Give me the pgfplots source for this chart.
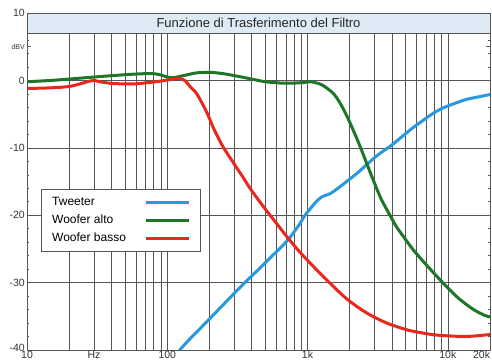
\documentclass[border=0pt]{standalone}
\usepackage{fontspec}
\setmainfont{Liberation Sans}
\usepackage{pgfplots}
\pgfplotsset{compat=1.18}
\definecolor{cBlue}{RGB}{42,152,222}
\definecolor{cGreen}{RGB}{30,118,40}
\definecolor{cRed}{RGB}{232,40,28}
\definecolor{band}{RGB}{222,234,245}
\definecolor{gridc}{RGB}{85,85,85}
\begin{document}
\begin{tikzpicture}
\begin{axis}[
  scale only axis, width=463pt, height=337pt,
  xmode=log, xmin=10, xmax=20000, ymin=-40, ymax=10,
  xtick={10,100,1000,10000,20000},
  xticklabels={10,100,1k,10k,\makebox[0pt][r]{20k}},
  minor xtick={20,30,40,50,60,70,80,90,200,300,400,500,600,700,800,900,2000,3000,4000,5000,6000,7000,8000,9000},
  ytick={-40,-30,-20,-10,0,10},
  yticklabels={\raisebox{5pt}{-40},-30,-20,-10,0,10},
  minor y tick num=4,
  xmajorgrids, xminorgrids, ymajorgrids,
  major grid style={gridc, line width=0.5pt},
  minor grid style={gridc, line width=0.5pt},
  axis line style={gridc, line width=0.8pt},
  x tick style={draw=none},
  y tick style={gridc, line width=0.5pt},
  major tick length=4pt, minor tick length=2pt,
  extra x ticks={30}, extra x tick labels={Hz},
  extra x tick style={grid=none},
  extra y ticks={5}, extra y tick labels={dBV},
  extra y tick style={grid=none, yticklabel style={font=\fontsize{7}{8}\selectfont}},
  ticklabel style={font=\fontsize{10.5}{12}\selectfont, text=black!80},
  xticklabel style={inner sep=1pt},
  yticklabel style={inner sep=2pt},
  legend style={at={(rel axis cs:0.03,0.478)}, anchor=north west,
    draw=gridc, fill=white, line width=0.6pt,
    font=\fontsize{12}{14}\selectfont,
    nodes={inner sep=1pt},
    inner xsep=10pt, inner ysep=7pt,
    /tikz/column sep=17pt, /tikz/row sep=6pt},
  legend plot pos=right,
  legend cell align=left,
  legend image code/.code={\draw[#1, line width=3pt] (0pt,0pt) -- (43pt,0pt);},
]
\fill[band] (rel axis cs:0,0.94) rectangle (rel axis cs:1,1);
\draw[gridc, line width=0.5pt] (rel axis cs:0,0.94) -- (rel axis cs:1,0.94);
\node[font=\fontsize{13}{15}\selectfont, text=black!85] at (rel axis cs:0.5,0.97) {Funzione di Trasferimento del Filtro};

\addplot[cBlue, line width=3pt, smooth] coordinates {
(110,-42.4) (123,-40) (200,-35.4) (300,-31.6) (370,-29.7) (450,-28.0)
(550,-26.2) (650,-24.7) (730,-23.6) (860,-21.6) (960,-20.0) (1050,-19.0)
(1130,-18.2) (1260,-17.3) (1450,-16.8) (1650,-16.0) (1900,-15.0) (2250,-13.8)
(2640,-12.5) (3200,-11.0) (3870,-9.8) (4560,-8.6) (5500,-7.2) (6700,-5.9)
(7850,-4.9) (9000,-4.2) (10900,-3.5) (13700,-2.8) (17000,-2.4) (20000,-2.1)
};
\addlegendentry{Tweeter}

\addplot[cGreen, line width=3pt, smooth] coordinates {
(10,-0.2) (15,0.0) (20,0.2) (30,0.5) (40,0.7) (55,0.9) (70,1.0) (80,1.0)
(90,0.8) (100,0.5) (110,0.4) (130,0.7) (160,1.1) (200,1.2) (250,1.0)
(320,0.6) (400,0.2) (500,-0.2) (650,-0.4) (800,-0.4) (950,-0.3) (1050,-0.2)
(1170,-0.4) (1300,-0.8) (1520,-1.9) (1700,-3.3) (1910,-5.3) (2130,-7.5)
(2370,-9.8) (2640,-12.3) (2930,-14.7) (3350,-17.6) (3870,-20.0) (4300,-21.7)
(4800,-23.1) (5700,-25.2) (6650,-26.8) (7800,-28.4) (9100,-29.9) (10600,-31.3)
(12200,-32.5) (15000,-33.9) (18000,-34.8) (20000,-35.1)
};
\addlegendentry{Woofer alto}

\addplot[cRed, line width=3pt, smooth] coordinates {
(10,-1.2) (15,-1.1) (20,-0.9) (24,-0.5) (28,-0.1) (30,0.0) (33,-0.2)
(38,-0.4) (45,-0.5) (60,-0.5) (75,-0.3) (90,-0.1) (110,0.2) (123,0.3)
(135,-0.1) (145,-0.9) (160,-1.8) (171,-2.8) (192,-4.8) (215,-7.2)
(249,-9.8) (300,-12.4) (350,-14.5) (389,-16.0) (440,-17.55) (500,-19.1)
(600,-21.2) (726,-23.4) (884,-25.5) (1100,-27.6) (1370,-29.6) (1900,-32.4)
(2640,-34.5) (3670,-36.0) (5100,-37.0) (6300,-37.4) (8000,-37.75) (10000,-37.9)
(13000,-38.0) (16000,-37.9) (20000,-37.7)
};
\addlegendentry{Woofer basso}

\draw[gridc, line width=0.8pt] (rel axis cs:0,0) rectangle (rel axis cs:1,1);
\end{axis}
\pgfresetboundingbox
\path[use as bounding box] ([shift={(-27pt,-10pt)}]current axis.south west) rectangle ([shift={(2pt,13pt)}]current axis.north east);
\end{tikzpicture}
\end{document}
